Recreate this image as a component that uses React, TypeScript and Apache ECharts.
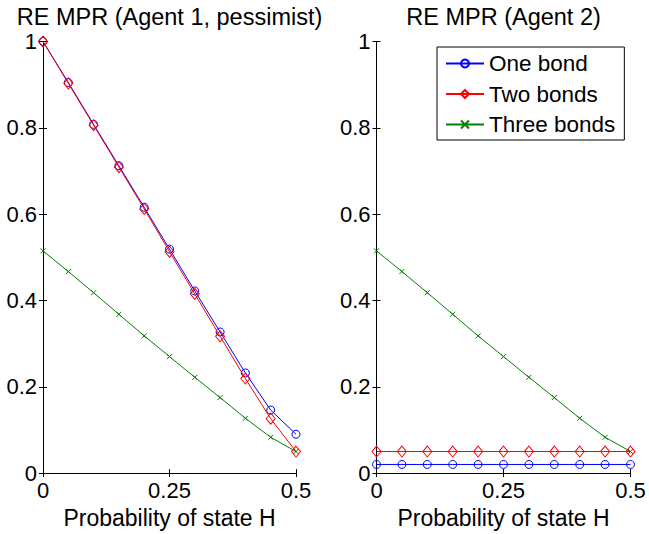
import React, { useEffect, useRef } from "react";
import * as echarts from "echarts";

const xs = [0, 0.05, 0.1, 0.15, 0.2, 0.25, 0.3, 0.35, 0.4, 0.45, 0.5];
const seriesNames = ["One bond", "Two bonds", "Three bonds"];
const titles = ["RE MPR (Agent 1, pessimist)", "RE MPR (Agent 2)"];
const xAxisTitle = "Probability of state H";

const agent1One = [1.0, 0.905, 0.808, 0.712, 0.616, 0.519, 0.422, 0.327, 0.232, 0.146, 0.09];
const agent1Two = [1.0, 0.903, 0.806, 0.709, 0.612, 0.513, 0.415, 0.317, 0.219, 0.126, 0.05];
const agent1Three = [0.515, 0.467, 0.418, 0.368, 0.318, 0.27, 0.222, 0.175, 0.127, 0.083, 0.05];

const agent2One = [0.02, 0.02, 0.02, 0.02, 0.02, 0.02, 0.02, 0.02, 0.02, 0.02, 0.02];
const agent2Two = [0.05, 0.05, 0.05, 0.05, 0.05, 0.05, 0.05, 0.05, 0.05, 0.05, 0.05];
const agent2Three = [0.515, 0.467, 0.418, 0.368, 0.318, 0.27, 0.222, 0.175, 0.127, 0.083, 0.05];

const FONT = "'Liberation Sans', Arial, Helvetica, sans-serif";
const colors = ["#0000ff", "#ff0000", "#008000"];
const symbols = ["circle", "diamond", "path://M0 0L10 10M10 0L0 10"];
const symbolSizes: any[] = [8, [9, 11], 5];

export default function App() {
  const ref = useRef<HTMLDivElement>(null);
  useEffect(() => {
    if (!ref.current) return;
    const chart = echarts.init(ref.current, undefined, { renderer: "svg" });

    const grids = [
      { left: 43, top: 41.5, width: 253, height: 440.5 },
      { left: 376.5, top: 41.5, width: 254, height: 440.5 },
    ];

    const xAxes: any[] = [];
    const yAxes: any[] = [];
    grids.forEach((_, gi) => {
      xAxes.push({
        gridIndex: gi,
        type: "value",
        min: 0,
        max: 0.5,
        interval: 0.25,
        position: "bottom",
        axisLine: { show: true, lineStyle: { color: "#000", width: 1 } },
        axisTick: { show: true, inside: true, length: 4, lineStyle: { color: "#000" } },
        axisLabel: { color: "#000", fontSize: 22, fontFamily: FONT, margin: 6 },
        splitLine: { show: false },
        name: xAxisTitle,
        nameLocation: "middle",
        nameGap: 27,
        nameTextStyle: { color: "#000", fontSize: 23, fontFamily: FONT },
      });
      xAxes.push({
        gridIndex: gi,
        type: "value",
        min: 0,
        max: 0.5,
        interval: 0.25,
        position: "top",
        axisLine: { show: true, lineStyle: { color: "#000", width: 1 } },
        axisTick: { show: true, inside: true, length: 4, lineStyle: { color: "#000" } },
        axisLabel: { show: false },
        splitLine: { show: false },
      });
      yAxes.push({
        gridIndex: gi,
        type: "value",
        min: 0,
        max: 1,
        interval: 0.2,
        position: "left",
        axisLine: { show: true, lineStyle: { color: "#000", width: 1 } },
        axisTick: { show: true, inside: true, length: 4, lineStyle: { color: "#000" } },
        axisLabel: { color: "#000", fontSize: 22, fontFamily: FONT, margin: 6 },
        splitLine: { show: false },
      });
      yAxes.push({
        gridIndex: gi,
        type: "value",
        min: 0,
        max: 1,
        interval: 0.2,
        position: "right",
        axisLine: { show: true, lineStyle: { color: "#000", width: 1 } },
        axisTick: { show: true, inside: true, length: 4, lineStyle: { color: "#000" } },
        axisLabel: { show: false },
        splitLine: { show: false },
      });
    });

    const dataSets = [
      [agent1One, agent1Two, agent1Three],
      [agent2One, agent2Two, agent2Three],
    ];

    const series: any[] = [];
    dataSets.forEach((sets, gi) => {
      sets.forEach((vals, si) => {
        series.push({
          type: "line",
          name: seriesNames[si],
          xAxisIndex: gi * 2,
          yAxisIndex: gi * 2,
          data: xs.map((x, i) => [x, vals[i]]),
          symbol: symbols[si],
          symbolSize: symbolSizes[si],
          showAllSymbol: true,
          lineStyle: { color: colors[si], width: 1 },
          itemStyle: { color: "transparent", borderColor: colors[si], borderWidth: 1 },
          emphasis: { disabled: true },
          z: 2 + si,
        });
      });
    });

    chart.setOption({
      animation: false,
      backgroundColor: "#fff",
      grid: grids,
      xAxis: xAxes,
      yAxis: yAxes,
      series,
      legend: {
        data: seriesNames,
        orient: "vertical",
        left: 437,
        top: 47,
        padding: [5, 9, 4, 8],
        itemGap: 7.5,
        itemWidth: 38,
        itemHeight: 10,
        borderColor: "#000",
        borderWidth: 1,
        backgroundColor: "#fff",
        selectedMode: false,
        textStyle: { color: "#000", fontSize: 22.5, fontFamily: FONT, lineHeight: 22 },
      },
      graphic: [
        {
          type: "text",
          x: 169.5,
          y: 17,
          style: {
            text: titles[0],
            font: `23.5px ${FONT}`,
            fill: "#000",
            align: "center",
            verticalAlign: "middle",
            textAlign: "center",
            textVerticalAlign: "middle",
          },
        },
        {
          type: "text",
          x: 503.5,
          y: 17,
          style: {
            text: titles[1],
            font: `23.5px ${FONT}`,
            fill: "#000",
            align: "center",
            verticalAlign: "middle",
            textAlign: "center",
            textVerticalAlign: "middle",
          },
        },
      ],
    });

    return () => chart.dispose();
  }, []);

  return (
    <div
      ref={ref}
      style={{ position: "absolute", left: 0, top: 0, width: 649, height: 534 }}
    />
  );
}
